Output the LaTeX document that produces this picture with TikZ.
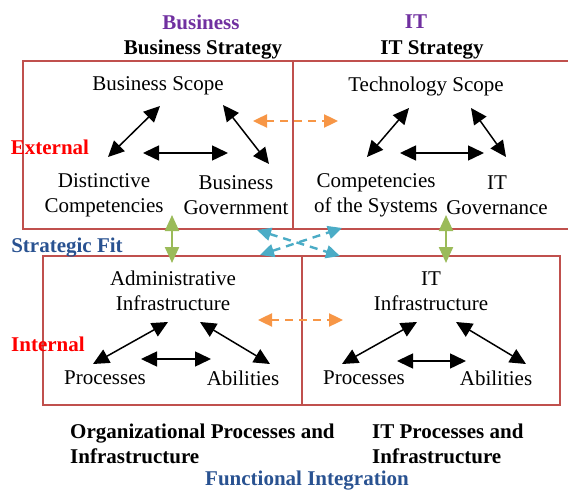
\documentclass[tikz,border=0pt]{standalone}
\usepackage{fontspec}
\setmainfont{Liberation Serif}
\usetikzlibrary{arrows.meta, positioning}
\definecolor{boxred}{RGB}{192, 80, 77}
\definecolor{fitorange}{RGB}{247, 150, 70}
\definecolor{fitgreen}{RGB}{155, 187, 89}
\definecolor{fitblue}{RGB}{75, 172, 198}
\definecolor{headpurple}{RGB}{112, 48, 160}
\definecolor{headblue}{RGB}{41, 82, 145}
\definecolor{sidered}{RGB}{255, 0, 0}

\begin{document}
\begin{tikzpicture}[x=1pt, y=-1pt,
    txt/.style={font=\fontsize{21}{25}\selectfont, align=center, inner sep=0pt},
    head/.style={txt, font=\fontsize{21}{25}\selectfont\bfseries},
    domainbox/.style={draw=boxred, line width=1.4pt},
    tiearrow/.style={{Triangle[length=16pt, width=15pt]}-{Triangle[length=16pt, width=15pt]}, line width=1.5pt},
    fitarrow/.style={{Triangle[length=16pt, width=14pt]}-{Triangle[length=16pt, width=14pt]}, line width=2.2pt},
    fitdash/.style={{Triangle[length=14pt, width=13pt]}-{Triangle[length=14pt, width=13pt]}, line width=2.4pt, dash pattern=on 8pt off 6pt}]
  \clip (0, 0) rectangle (568, 492);

  % Domain boxes
  \draw[domainbox] (23, 61) rectangle (293, 229);
  \draw[domainbox] (293, 61) rectangle (580, 229);
  \draw[domainbox] (43, 256) rectangle (302, 405);
  \draw[domainbox] (302, 256) rectangle (560, 405);

  % Headings
  \node[head, text=headpurple] (bizhead) at (201, 22) {Business};
  \node[head] (bizstrat) at (203, 50) {Business Strategy};
  \node[head, text=headpurple] (ithead) at (416, 22) {IT};
  \node[head] (itstrat) at (432, 50) {IT Strategy};
  \node[head, text=sidered] (external) at (50, 147) {External};
  \node[head, text=headblue] (stratfit) at (67, 248) {Strategic Fit};
  \node[head, text=sidered] (internal) at (48, 344) {Internal};
  \node[head, align=left, anchor=west] (orgproc) at (70, 444) {Organizational Processes and\\Infrastructure};
  \node[head, align=left, anchor=west] (itproc) at (372, 444) {IT Processes and\\Infrastructure};
  \node[head, text=headblue] (funcint) at (307, 481) {Functional Integration};

  % Business strategy
  \node[txt] (bscope) at (158, 86) {Business Scope};
  \node[txt] (distinct) at (104, 195) {Distinctive\\Competencies};
  \node[txt] (bgov) at (236, 195) {Business\\Government};
  \coordinate (bs1) at (108, 157); \coordinate (bs2) at (160, 106);
  \coordinate (bs3) at (223, 105); \coordinate (bs4) at (269, 164);
  \coordinate (bs5) at (143, 153); \coordinate (bs6) at (228, 153);
  \draw[tiearrow] (bs1) -- (bs2);
  \draw[tiearrow] (bs3) -- (bs4);
  \draw[tiearrow] (bs5) -- (bs6);

  % IT strategy
  \node[txt] (tscope) at (426, 86) {Technology Scope};
  \node[txt] (syscomp) at (376, 195) {Competencies\\of the Systems};
  \node[txt] (itgov) at (497, 195) {IT\\Governance};
  \coordinate (ts1) at (367, 157); \coordinate (ts2) at (409, 108);
  \coordinate (ts3) at (471, 108); \coordinate (ts4) at (506, 157);
  \coordinate (ts5) at (400, 153); \coordinate (ts6) at (484, 153);
  \draw[tiearrow] (ts1) -- (ts2);
  \draw[tiearrow] (ts3) -- (ts4);
  \draw[tiearrow] (ts5) -- (ts6);

  % Organizational infrastructure
  \node[txt] (adminfra) at (173, 291) {Administrative\\Infrastructure};
  \node[txt] (orgprocs) at (105, 378) {Processes};
  \node[txt] (orgabil) at (243, 378) {Abilities};
  \coordinate (oi1) at (93, 364); \coordinate (oi2) at (168, 322);
  \coordinate (oi3) at (200, 322); \coordinate (oi4) at (270, 364);
  \coordinate (oi5) at (141, 359); \coordinate (oi6) at (211, 359);
  \draw[tiearrow] (oi1) -- (oi2);
  \draw[tiearrow] (oi3) -- (oi4);
  \draw[tiearrow] (oi5) -- (oi6);

  % IT infrastructure
  \node[txt] (itinfra) at (431, 291) {IT\\Infrastructure};
  \node[txt] (itprocs) at (364, 378) {Processes};
  \node[txt] (itabil) at (496, 378) {Abilities};
  \coordinate (ii1) at (342, 364); \coordinate (ii2) at (417, 322);
  \coordinate (ii3) at (456, 322); \coordinate (ii4) at (526, 364);
  \coordinate (ii5) at (397, 361); \coordinate (ii6) at (466, 361);
  \draw[tiearrow] (ii1) -- (ii2);
  \draw[tiearrow] (ii3) -- (ii4);
  \draw[tiearrow] (ii5) -- (ii6);

  % Alignment links
  \coordinate (or1) at (253, 121); \coordinate (or2) at (338, 121);
  \coordinate (or3) at (258, 320); \coordinate (or4) at (343, 320);
  \draw[fitdash, fitorange] (or1) -- (or2);
  \draw[fitdash, fitorange] (or3) -- (or4);
  \coordinate (gr1) at (172, 215); \coordinate (gr2) at (172, 263);
  \coordinate (gr3) at (446, 215); \coordinate (gr4) at (446, 263);
  \draw[fitarrow, fitgreen] (gr1) -- (gr2);
  \draw[fitarrow, fitgreen] (gr3) -- (gr4);
  \coordinate (bl1) at (257, 230); \coordinate (bl2) at (340, 256);
  \coordinate (bl3) at (260, 255); \coordinate (bl4) at (342, 228);
  \draw[fitdash, fitblue] (bl1) -- (bl2);
  \draw[fitdash, fitblue] (bl3) -- (bl4);
\end{tikzpicture}
\end{document}
